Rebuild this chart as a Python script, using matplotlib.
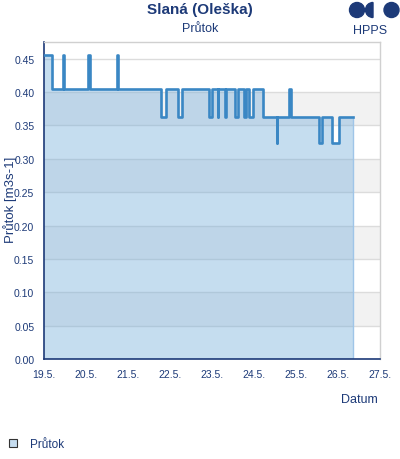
import datetime as dt
import matplotlib
matplotlib.use("Agg")
import matplotlib.pyplot as plt
import matplotlib.dates as mdates
from matplotlib.patches import Circle, Wedge, Patch
from matplotlib.ticker import FuncFormatter, MultipleLocator

plt.rcParams['font.family'] = ['Liberation Sans', 'DejaVu Sans']

# change points: hours since 19.5. 00:00 and flow from that moment on
hours = [0.0, 4.6, 10.9, 11.3, 25.2, 26.3, 41.8, 42.3, 67.0, 69.9,
         76.8, 79.0, 94.2, 96.2, 99.3, 99.7, 103.4, 103.8, 109.1, 110.8,
         114.3, 115.7, 116.9, 119.7, 125.4, 132.9, 133.4, 140.0, 140.9, 157.2,
         159.1, 164.4, 168.4, 176.7]
flow = [0.455, 0.405, 0.455, 0.405, 0.455, 0.405, 0.455, 0.405, 0.362, 0.405,
        0.362, 0.405, 0.362, 0.405, 0.362, 0.405, 0.362, 0.405, 0.362, 0.405,
        0.362, 0.405, 0.362, 0.405, 0.362, 0.324, 0.362, 0.405, 0.362, 0.324,
        0.362, 0.324, 0.362, 0.362]

start = dt.datetime(2024, 5, 19)
end = dt.datetime(2024, 5, 27)
times = [start + dt.timedelta(hours=h) for h in hours]

navy = '#1d3a78'
line_col = '#3a87c4'

fig = plt.figure(figsize=(4, 4.6), dpi=100)
ax = fig.add_axes([44 / 400, 1 - 360 / 460, 336 / 400, 317 / 460])

# alternating bands + grid
for lo in [0.05, 0.15, 0.25, 0.35]:
    ax.axhspan(lo, lo + 0.05, color='#f2f2f2', lw=0, zorder=0)
ax.yaxis.set_major_locator(MultipleLocator(0.05))
ax.grid(axis='y', color='#dcdcdc', lw=1, zorder=1)
ax.set_axisbelow(True)

ax.fill_between(times, flow, step='post', color='#70aad9', alpha=0.4, lw=0, zorder=2)
ax.plot([times[-1], times[-1]], [0, flow[-1]], color='#9fc5e8', lw=1, zorder=2)
ax.step(times, flow, where='post', color=line_col, lw=1.9, zorder=3)

ax.set_xlim(start, end)
ax.set_ylim(0, 0.475)
ax.xaxis.set_major_locator(mdates.DayLocator())
ax.xaxis.set_major_formatter(FuncFormatter(
    lambda x, pos: f"{mdates.num2date(x).day}.{mdates.num2date(x).month}."))
ax.yaxis.set_major_formatter(FuncFormatter(lambda y, pos: f"{y:.2f}"))
ax.tick_params(axis='both', length=0, labelsize=7.5, labelcolor=navy)
ax.tick_params(axis='x', pad=7)
ax.tick_params(axis='y', pad=7)

for side in ['top', 'right']:
    ax.spines[side].set_color('#d0d0d0')
    ax.spines[side].set_linewidth(1)
for side in ['left', 'bottom']:
    ax.spines[side].set_color(navy)
    ax.spines[side].set_linewidth(1.2)

ax.set_ylabel('Průtok [m3s-1]', color=navy, fontsize=9.5)
ax.yaxis.set_label_coords(-0.08, 0.505)
ax.set_xlabel('Datum', color=navy, fontsize=9, loc='right')
ax.xaxis.set_label_coords(0.994, -0.108)

fig.text(0.5, 1 - 10 / 460, 'Slaná (Oleška)', ha='center', va='center',
         fontsize=11, fontweight='bold', color=navy)
fig.text(0.5, 1 - 29 / 460, 'Průtok', ha='center', va='center',
         fontsize=9, color=navy)

# HPPS logo
lax = fig.add_axes([345 / 400, 1 - 22 / 460, 55 / 400, 22 / 460])
lax.set_xlim(345, 400)
lax.set_ylim(0, 22)
lax.axis('off')
lax.add_patch(Circle((357, 11), 7.5, color=navy))
lax.add_patch(Wedge((373, 11), 7.5, 90, 270, color=navy))
lax.add_patch(Circle((391.5, 11), 7.5, color=navy))
fig.text(370 / 400, 1 - 31 / 460, 'HPPS', ha='center', va='center',
         fontsize=9, color=navy)

fig.legend(handles=[Patch(facecolor='#c6ddf0', edgecolor='#333333', lw=0.8)],
           labels=['Průtok'], loc='center left',
           bbox_to_anchor=(9 / 400, 1 - 445 / 460), frameon=False,
           handlelength=0.7, handleheight=0.7, handletextpad=1.1,
           borderpad=0, borderaxespad=0, fontsize=8.5, labelcolor=navy)

fig.savefig('out.png', dpi=100)
